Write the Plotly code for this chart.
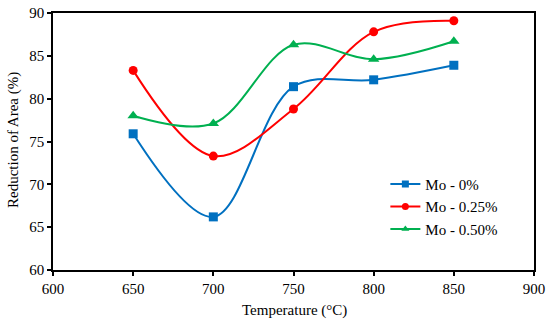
import plotly.graph_objects as go

temps = [650, 700, 750, 800, 850]
mo_0 = [75.9, 66.2, 81.4, 82.2, 83.9]
mo_025 = [83.3, 73.3, 78.8, 87.8, 89.1]
mo_050 = [78.0, 77.1, 86.3, 84.6, 86.7]
series_names = ["Mo - 0%", "Mo - 0.25%", "Mo - 0.50%"]
x_ticks = [600, 650, 700, 750, 800, 850, 900]
y_ticks = [60, 65, 70, 75, 80, 85, 90]
x_title = "Temperature (°C)"
y_title = "Reduction of Area (%)"

colors = ["#0070C0", "#FF0000", "#00B050"]
symbols = ["square", "circle", "triangle-up"]
sizes = [9, 9, 10]

fig = go.Figure()
for vals, name, c, s, sz in zip([mo_0, mo_025, mo_050], series_names, colors, symbols, sizes):
    fig.add_trace(go.Scatter(
        x=temps, y=vals, name=name, mode="lines+markers", showlegend=False,
        line=dict(color=c, width=2, shape="spline", smoothing=1.0),
        marker=dict(color=c, symbol=s, size=sz),
    ))
# legend entries with smaller markers, as in the reference
for name, c, s in zip(series_names, colors, symbols):
    fig.add_trace(go.Scatter(
        x=[None], y=[None], name=name, mode="lines+markers",
        line=dict(color=c, width=2), marker=dict(color=c, symbol=s, size=7),
    ))

font = "Liberation Serif, Times New Roman, serif"
W, H = 550, 322
L, R, T, B = 53, 16, 13, 52
plot_w = W - L - R
plot_h = H - T - B

fig.update_layout(
    width=W, height=H,
    margin=dict(l=L, r=R, t=T, b=B, autoexpand=False),
    paper_bgcolor="white", plot_bgcolor="white",
    font=dict(family=font, size=15, color="black"),
    showlegend=True,
    legend=dict(x=0.691, y=0.398, xanchor="left", yanchor="top",
                bgcolor="rgba(0,0,0,0)", font=dict(family=font, size=15),
                itemwidth=30, tracegroupgap=0),
)
fig.add_annotation(text=x_title, x=(294 - L) / plot_w, y=-(311 - (H - B)) / plot_h,
                   xref="paper", yref="paper", showarrow=False,
                   xanchor="center", yanchor="middle", font=dict(family=font, size=15))
fig.add_annotation(text=y_title, x=-(L - 13) / plot_w, y=((H - B) - 140) / plot_h,
                   xref="paper", yref="paper", textangle=-90, showarrow=False,
                   xanchor="center", yanchor="middle", font=dict(family=font, size=15))

fig.update_xaxes(
    range=[600, 900], tickvals=x_ticks, ticktext=[str(v) for v in x_ticks],
    showgrid=False, zeroline=False, showline=True, linecolor="black", linewidth=1.5,
    mirror=True, ticks="outside", ticklen=4, tickwidth=1.5, tickcolor="black",
    automargin=False, tickfont=dict(family=font, size=15),
)
fig.update_yaxes(
    range=[60, 90], tickvals=y_ticks, ticktext=[str(v) for v in y_ticks],
    showgrid=False, zeroline=False, showline=True, linecolor="black", linewidth=1.5,
    mirror=True, ticks="outside", ticklen=4, tickwidth=1.5, tickcolor="black",
    automargin=False, tickfont=dict(family=font, size=15),
)
fig.write_html("out.html", config={"displayModeBar": False},
               post_script="document.body.style.margin='0';document.body.style.padding='0';")
